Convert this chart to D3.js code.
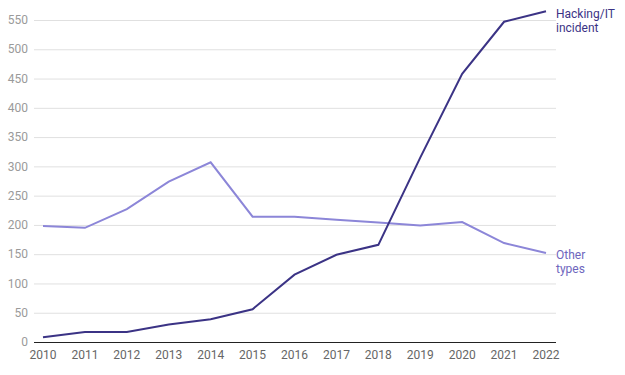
<!DOCTYPE html>
<html>
<head>
<meta charset="utf-8">
<script src="https://cdn.jsdelivr.net/npm/d3@7"></script>
<style>
  body { margin: 0; background: #fff; }
  svg { font-family: Roboto, sans-serif; }
  .grid line { stroke: #e0e0e0; }
</style>
</head>
<body>
<svg id="chart" width="625" height="375"></svg>
<script>
const years = [2010, 2011, 2012, 2013, 2014, 2015, 2016, 2017, 2018, 2019, 2020, 2021, 2022];
const hacking = [8, 17, 17, 30, 39, 56, 115, 149, 166, 315, 458, 547, 565];
const otherTypes = [198, 195, 227, 274, 307, 214, 214, 209, 204, 199, 205, 169, 152];
const yTicks = [0, 50, 100, 150, 200, 250, 300, 350, 400, 450, 500, 550];

const svg = d3.select('#chart');

const xScale = d3.scalePoint()
    .domain(years)
    .range([43, 546]);

const yScale = d3.scaleLinear()
    .domain([0, 550])
    .range([342, 20]);

const gridLeft = 34, gridRight = 556;

// gridlines
svg.append('g')
    .attr('class', 'grid')
    .selectAll('line')
    .data(yTicks.filter(d => d > 0))
    .enter()
    .append('line')
    .attr('x1', gridLeft)
    .attr('x2', gridRight)
    .attr('y1', d => yScale(d) + 0.5)
    .attr('y2', d => yScale(d) + 0.5);

// y labels
svg.append('g')
    .selectAll('text')
    .data(yTicks)
    .enter()
    .append('text')
    .attr('x', 28)
    .attr('y', d => yScale(d))
    .attr('dy', '0.35em')
    .attr('text-anchor', 'end')
    .attr('font-size', 12)
    .attr('fill', '#9a9a9a')
    .text(d => d);

// baseline
svg.append('line')
    .attr('x1', gridLeft)
    .attr('x2', gridRight)
    .attr('y1', yScale(0) + 0.5)
    .attr('y2', yScale(0) + 0.5)
    .attr('stroke', '#222')
    .attr('stroke-width', 1);

// x labels
svg.append('g')
    .selectAll('text')
    .data(years)
    .enter()
    .append('text')
    .attr('x', d => xScale(d))
    .attr('y', 359)
    .attr('text-anchor', 'middle')
    .attr('font-size', 12)
    .attr('fill', '#666')
    .text(d => d);

const line = d3.line()
    .x((d, i) => xScale(years[i]))
    .y(d => yScale(d));

svg.append('path')
    .datum(otherTypes)
    .attr('fill', 'none')
    .attr('stroke', '#8c86d8')
    .attr('stroke-width', 2)
    .attr('d', line);

svg.append('path')
    .datum(hacking)
    .attr('fill', 'none')
    .attr('stroke', '#3b3385')
    .attr('stroke-width', 2)
    .attr('d', line);

// series labels
function label(lines, y, color) {
    const t = svg.append('text')
        .attr('x', 556)
        .attr('y', y)
        .attr('font-size', 12)
        .attr('fill', color);
    lines.forEach((s, i) => {
        t.append('tspan')
            .attr('x', 556)
            .attr('dy', i === 0 ? 0 : 14)
            .text(s);
    });
}
label(['Hacking/IT', 'incident'], 18, '#3b3385');
label(['Other', 'types'], 259, '#6e66bd');
</script>
</body>
</html>
